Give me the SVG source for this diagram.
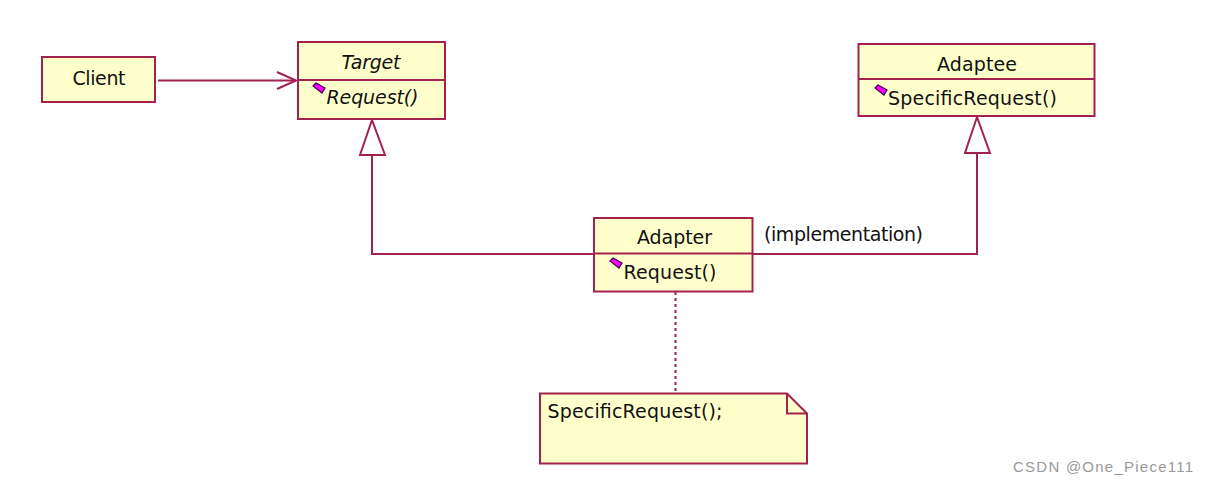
<svg xmlns="http://www.w3.org/2000/svg" width="1209" height="484" viewBox="0 0 1209 484">
<style>
.box{fill:#ffffcc;stroke:#a3224d;stroke-width:2}
.ln{fill:none;stroke:#a3224d;stroke-width:2}
.t{font-family:"DejaVu Sans",Verdana,sans-serif;font-size:19px;fill:#111}
.i{font-style:italic}
.ic{fill:#ff00ff;stroke:#3a0050;stroke-width:1.2}
.wm{font-family:"Liberation Sans",Arial,sans-serif;font-size:15px;fill:#999}
</style>
<defs>
<polygon id="icon" class="ic" points="0,3 3,0 12,5 9,10"/>
</defs>
<rect width="1209" height="484" fill="#fff"/>
<g id="connectors">
<line class="ln" x1="158" y1="80.5" x2="296" y2="80.5"/>
<polyline class="ln" points="277,72 296,80.5 277,89"/>
<polygon class="ln" points="372,120 360,155 385,155" style="fill:#fff"/>
<polyline class="ln" points="372,155 372,254 594,254"/>
<polygon class="ln" points="977,117 965,153 990,153" style="fill:#fff"/>
<polyline class="ln" points="977,153 977,254 753,254"/>
<line x1="675.5" y1="292" x2="675.5" y2="393" stroke="#a3224d" stroke-width="2" stroke-dasharray="3,3"/>
<text class="t" x="764" y="241" textLength="159">(implementation)</text>
</g>
<g id="client">
<rect class="box" x="42" y="57" width="113" height="45"/>
<text class="t" x="72.5" y="85" textLength="53">Client</text>
</g>
<g id="target">
<rect class="box" x="298" y="42" width="147" height="77"/>
<line class="ln" x1="298" y1="80" x2="445" y2="80"/>
<text class="t i" x="341.5" y="69" textLength="59">Target</text>
<use href="#icon" x="313" y="83"/>
<text class="t i" x="326.5" y="104" textLength="92">Request()</text>
</g>
<g id="adaptee">
<rect class="box" x="858.5" y="44" width="236" height="72"/>
<line class="ln" x1="858.5" y1="79" x2="1094.5" y2="79"/>
<text class="t" x="937" y="71" textLength="80">Adaptee</text>
<use href="#icon" x="875" y="85"/>
<text class="t" x="888" y="105" textLength="169">SpecificRequest()</text>
</g>
<g id="adapter">
<rect class="box" x="594" y="218" width="158.5" height="73.5"/>
<line class="ln" x1="594" y1="253.5" x2="752.5" y2="253.5"/>
<text class="t" x="637" y="244" textLength="75">Adapter</text>
<use href="#icon" x="610" y="258"/>
<text class="t" x="623.5" y="279" textLength="93">Request()</text>
</g>
<g id="note">
<path class="box" d="M540,393.5 H787 L807,413.5 V463.5 H540 Z"/>
<polyline class="ln" points="787,393.5 787,413.5 807,413.5"/>
<text class="t" x="547.5" y="418" textLength="175">SpecificRequest();</text>
</g>
<text class="wm" x="1013" y="472" textLength="180">CSDN @One_Piece111</text>
</svg>
